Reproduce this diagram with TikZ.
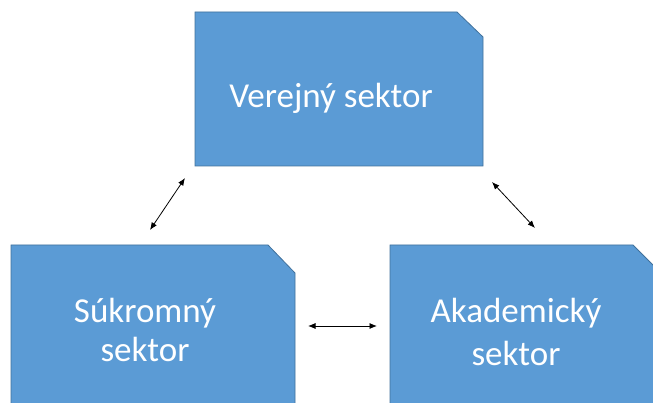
\documentclass[tikz,border=0pt]{standalone}
\usepackage{fontspec}
\setmainfont{Carlito}
\usetikzlibrary{arrows.meta}
\definecolor{boxfill}{HTML}{5B9BD5}
\definecolor{boxline}{HTML}{41719C}
\tikzset{
  sbox/.style={fill=boxfill, draw=boxline, line width=0.8pt},
  lbl/.style={text=white, font=\fontsize{35}{38}\selectfont, anchor=base, inner sep=0pt},
  link/.style={black, line width=0.8pt, {Latex[length=7.5pt,width=6pt]}-{Latex[length=7.5pt,width=6pt]}}
}
\begin{document}
\begin{tikzpicture}[x=1pt,y=-1pt]
\useasboundingbox (0,0) rectangle (653,403);
% boxes
\draw[sbox] (195,12) -- (457,12) -- (483,37) -- (483,166) -- (195,166) -- cycle;
\draw[sbox] (11,245) -- (268,245) -- (295,273) -- (295,420) -- (11,420) -- cycle;
\draw[sbox] (390,245) -- (633,245) -- (661,273) -- (661,420) -- (390,420) -- cycle;
% labels
\node[lbl] (ver) at (331,108) {Verejný sektor};
\node[lbl] (suk1) at (145,323) {Súkromný};
\node[lbl] (suk2) at (145,361) {sektor};
\node[lbl] (aka1) at (516,323) {Akademický};
\node[lbl] (aka2) at (516,365) {sektor};
% connector ends
\coordinate (a1) at (185,178);
\coordinate (a2) at (150,230);
\coordinate (b1) at (492,182);
\coordinate (b2) at (535,228);
\coordinate (c1) at (308,326);
\coordinate (c2) at (377,326);
\draw[link] (a1) -- (a2);
\draw[link] (b1) -- (b2);
\draw[link] (c1) -- (c2);
\end{tikzpicture}
\end{document}
